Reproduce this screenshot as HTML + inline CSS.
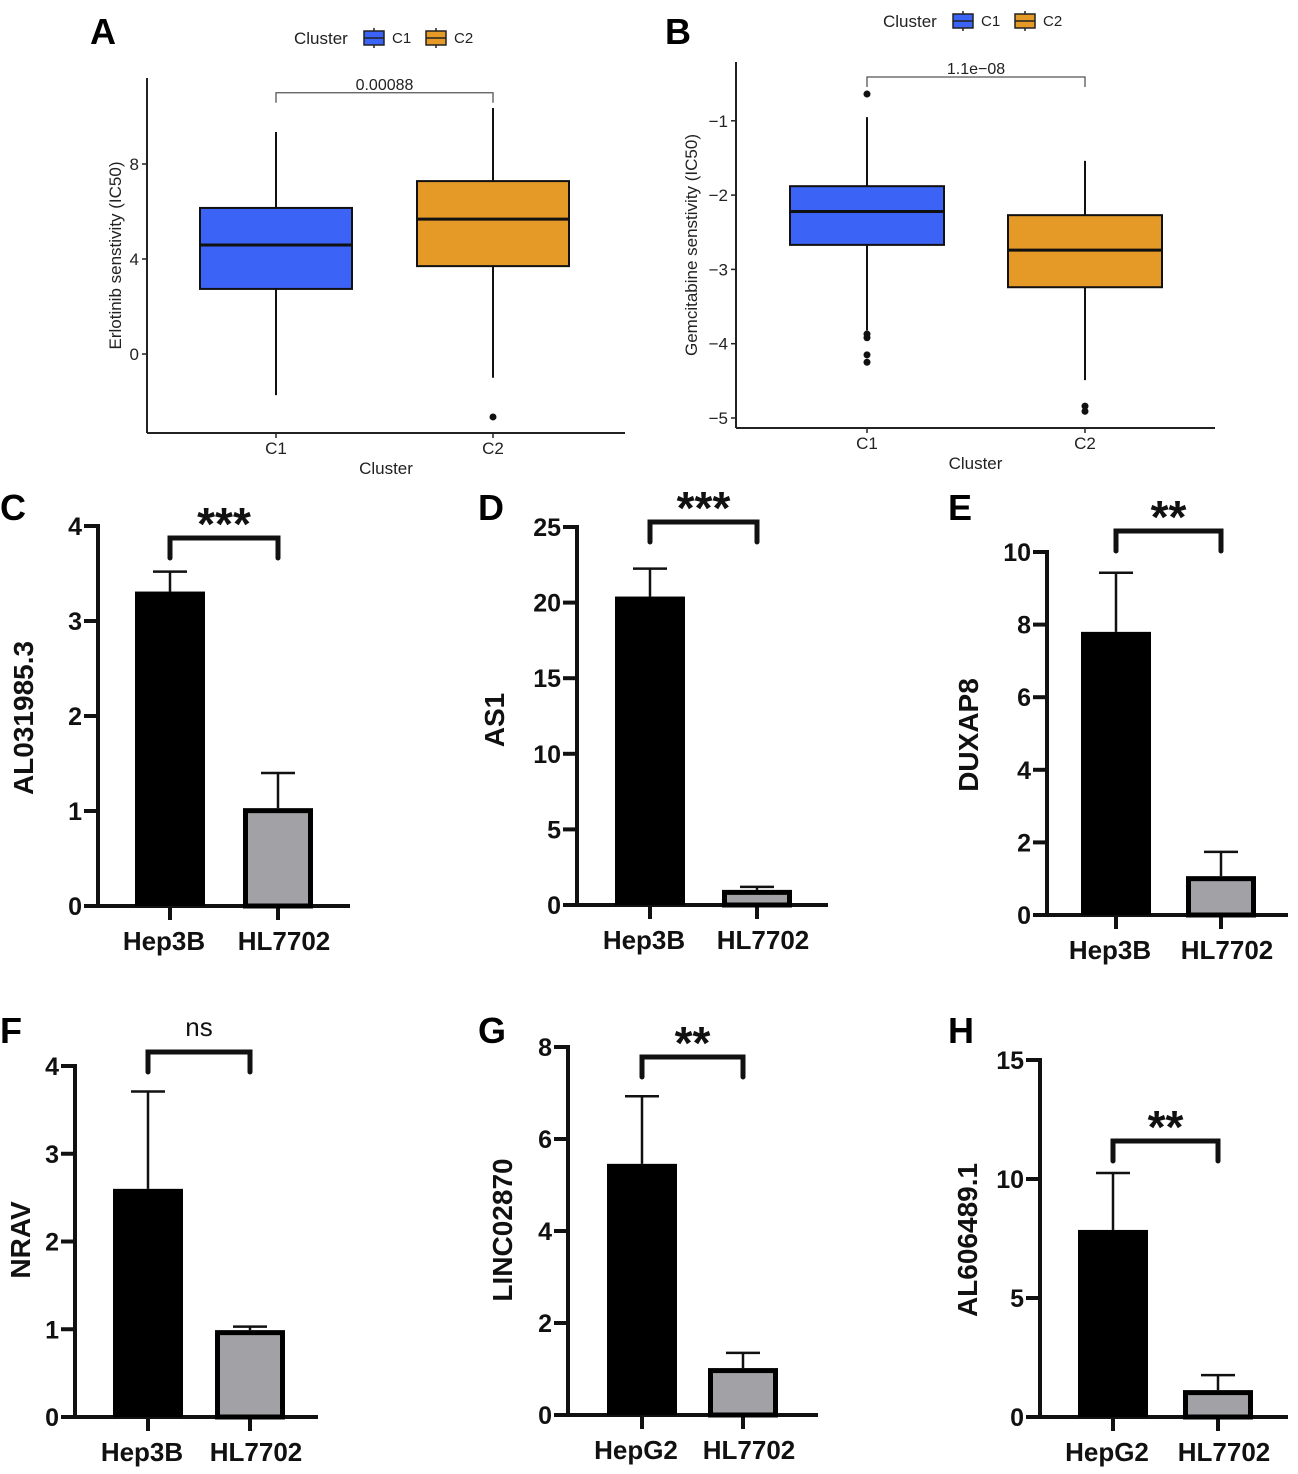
<!DOCTYPE html>
<html><head><meta charset="utf-8"><style>
body{margin:0;background:#fff;}
svg{display:block;font-family:"Liberation Sans",Arial,sans-serif;}
</style></head><body>
<svg id="fig" width="1298" height="1474" viewBox="0 0 1298 1474"></svg>
<script>
// ---------- data ----------
const boxCats = ["C1","C2"];
// Panel A (Erlotinib): [whiskerLow, Q1, median, Q3, whiskerHigh]
const aStats = [[-1.73,2.74,4.59,6.15,9.35],[-1.0,3.7,5.68,7.28,10.36]];
const aOutliers = [[],[-2.65]];
const aTicks = [0,4,8];
// Panel B (Gemcitabine)
const bStats = [[-3.82,-2.67,-2.22,-1.88,-0.95],[-4.49,-3.24,-2.74,-2.27,-1.54]];
const bOutliers = [[-0.64,-3.87,-3.92,-4.15,-4.25],[-4.84,-4.91]];
const bTicks = [-5,-4,-3,-2,-1];

const cCats=["Hep3B","HL7702"], cMeans=[3.31,1.03], cErrs=[0.21,0.37], cTicks=[0,1,2,3,4];
const dCats=["Hep3B","HL7702"], dMeans=[20.4,1.0], dErrs=[1.85,0.2], dTicks=[0,5,10,15,20,25];
const eCats=["Hep3B","HL7702"], eMeans=[7.8,1.07], eErrs=[1.63,0.67], eTicks=[0,2,4,6,8,10];
const fCats=["Hep3B","HL7702"], fMeans=[2.6,0.99], fErrs=[1.11,0.04], fTicks=[0,1,2,3,4];
const gCats=["HepG2","HL7702"], gMeans=[5.46,1.02], gErrs=[1.47,0.33], gTicks=[0,2,4,6,8];
const hCats=["HepG2","HL7702"], hMeans=[7.86,1.13], hErrs=[2.39,0.63], hTicks=[0,5,10,15];

const NS="http://www.w3.org/2000/svg";
const svg=document.getElementById('fig');
function mk(tag,attrs,parent,text){
  const e=document.createElementNS(NS,tag);
  for(const k in attrs) e.setAttribute(k,attrs[k]);
  if(text!==undefined) e.textContent=text;
  (parent||svg).appendChild(e);return e;
}

// ---------- box plots ----------
function boxPanel(o){
  const g=mk('g',{});
  
  
  const y=v=>o.y0-(v-o.v0)*o.k;
  const x=i=>o.xs[i];
  let t=mk('text',{x:o.lx,y:o.ly,'font-size':36,'font-weight':'bold'},g,o.letter);
  
  const lg=mk('g',{},g);
  
  mk('text',{x:o.legX,y:o.legY+6,'font-size':17,fill:'#222'},lg,'Cluster');
  const cols=['#3b63f5','#e59a27'];
  [0,1].forEach(i=>{
    const bx=o.legX+70+i*62;
    const it=mk('g',{},lg);
    
    
    mk('line',{x1:bx+10,x2:bx+10,y1:o.legY-10,y2:o.legY+10,stroke:'#222','stroke-width':1.5},it);
    mk('rect',{x:bx,y:o.legY-7,width:20,height:14,fill:cols[i],stroke:'#222','stroke-width':1.5},it);
    mk('line',{x1:bx,x2:bx+20,y1:o.legY,y2:o.legY,stroke:'#222','stroke-width':1.5},it);
    mk('text',{x:bx+28,y:o.legY+5,'font-size':15,fill:'#222'},it,boxCats[i]);
  });
  const ax=mk('g',{},g);
  mk('line',{x1:o.ax,x2:o.ax,y1:o.top,y2:o.bot,stroke:'#222','stroke-width':2},ax);
  mk('line',{x1:o.ax,x2:o.right,y1:o.bot,y2:o.bot,stroke:'#222','stroke-width':2},ax);
  o.ticks.forEach(v=>{
    mk('line',{x1:o.ax-5,x2:o.ax,y1:y(v),y2:y(v),stroke:'#222','stroke-width':1.5},ax);
    mk('text',{x:o.ax-8,y:y(v)+6,'font-size':17,'text-anchor':'end',fill:'#222'},ax,String(v).replace('-','\u2212'));
  });
  boxCats.forEach((c,i)=>{
    mk('line',{x1:x(i),x2:x(i),y1:o.bot,y2:o.bot+5,stroke:'#222','stroke-width':1.5},ax);
    mk('text',{x:x(i),y:o.bot+21,'font-size':17,'text-anchor':'middle',fill:'#222'},ax,c);
  });
  let xt=mk('text',{x:(o.ax+o.right)/2,y:o.bot+41,'font-size':17,'text-anchor':'middle',fill:'#222'},g,'Cluster');
  
  let yt=mk('text',{x:0,y:0,'font-size':17,'text-anchor':'middle',fill:'#222',transform:`translate(${o.ytx},${(o.top+o.bot)/2}) rotate(-90)`},g,o.ytitle);
  
  o.stats.forEach((s,i)=>{
    const b=mk('g',{},g);
    
    const hw=o.bw/2;
    mk('line',{x1:x(i),x2:x(i),y1:y(s[0]),y2:y(s[4]),stroke:'#111','stroke-width':2},b);
    mk('rect',{x:x(i)-hw,y:y(s[3]),width:o.bw,height:y(s[1])-y(s[3]),fill:cols[i],stroke:'#111','stroke-width':2},b);
    mk('line',{x1:x(i)-hw,x2:x(i)+hw,y1:y(s[2]),y2:y(s[2]),stroke:'#111','stroke-width':3},b);
    o.out[i].forEach(v=>mk('circle',{cx:x(i),cy:y(v),r:3.5,fill:'#111'},b));
  });
  const br=mk('g',{},g);
  mk('path',{d:`M${x(0)},${y(o.brV)+10}V${y(o.brV)}H${x(1)}V${y(o.brV)+10}`,fill:'none',stroke:'#555','stroke-width':1.3},br);
  mk('text',{x:(x(0)+x(1))/2,y:y(o.brV)-3,'font-size':16,'text-anchor':'middle',fill:'#222'},br,o.pval);
}
boxPanel({name:'panel-a-erlotinib-boxplot',letter:'A',lx:90,ly:44,legX:294,legY:38,ax:147,right:625,top:78,bot:433,
  y0:354,v0:0,k:23.75,xs:[276,493],bw:152,stats:aStats,out:aOutliers,ticks:aTicks,brV:11.0,pval:'0.00088',
  ytx:121,ytitle:'Erlotinib senstivity (IC50)'});
boxPanel({name:'panel-b-gemcitabine-boxplot',letter:'B',lx:665,ly:44,legX:883,legY:21,ax:736,right:1215,top:62,bot:428,
  y0:418,v0:-5,k:74.3,xs:[867,1085],bw:154,stats:bStats,out:bOutliers,ticks:bTicks,brV:-0.41,pval:'1.1e\u221208',
  ytx:697,ytitle:'Gemcitabine senstivity (IC50)'});

// ---------- bar charts ----------
function barPanel(o){
  const g=mk('g',{});
  
  const y=v=>o.y0-v*o.k;
  const x=i=>o.xs[i];
  let t=mk('text',{x:o.lx,y:o.ly,'font-size':36,'font-weight':'bold'},g,o.letter);
  
  const ax=mk('g',{},g);
  const top=y(o.ticks[o.ticks.length-1]);
  mk('line',{x1:o.ax,x2:o.ax,y1:top-2,y2:o.y0+2,stroke:'#111','stroke-width':4},ax);
  mk('line',{x1:o.ax-2,x2:o.right,y1:o.y0,y2:o.y0,stroke:'#111','stroke-width':4},ax);
  o.ticks.forEach(v=>{
    mk('line',{x1:o.ax-14,x2:o.ax,y1:y(v),y2:y(v),stroke:'#111','stroke-width':4},ax);
    mk('text',{x:o.ax-16,y:y(v)+9,'font-size':25,'font-weight':'bold','text-anchor':'end',fill:'#111'},ax,v);
  });
  o.cats.forEach((c,i)=>{
    mk('line',{x1:x(i),x2:x(i),y1:o.y0,y2:o.y0+14,stroke:'#111','stroke-width':4},ax);
    mk('text',{x:x(i)+(i?6:-6),y:o.y0+44,'font-size':26,'font-weight':'bold','text-anchor':'middle',fill:'#111'},ax,c);
  });
  let yt=mk('text',{x:0,y:0,'font-size':28,'font-weight':'bold','text-anchor':'middle',fill:'#111',transform:`translate(${o.ytx},${o.yty}) rotate(-90)`},g,o.ytitle);
  
  o.means.forEach((m,i)=>{
    const b=mk('g',{},g);
    
    const e=y(m+o.errs[i]);
    mk('line',{x1:x(i),x2:x(i),y1:y(m),y2:e,stroke:'#111','stroke-width':2.5},b);
    mk('line',{x1:x(i)-17,x2:x(i)+17,y1:e,y2:e,stroke:'#111','stroke-width':2.5},b);
    if(i===0) mk('rect',{x:x(i)-35,y:y(m),width:70,height:o.y0-y(m),fill:'#000'},b);
    else mk('rect',{x:x(i)-32.5,y:y(m)+2.5,width:65,height:o.y0-y(m)-2.5,fill:'#a2a2a6',stroke:'#000','stroke-width':5},b);
  });
  const br=mk('g',{},g);
  mk('path',{d:`M${x(0)},${o.brY+20}V${o.brY}H${x(1)}V${o.brY+20}`,fill:'none',stroke:'#111','stroke-width':5,'stroke-linecap':'round','stroke-linejoin':'miter'},br);
  if(o.sig==='ns') mk('text',{x:(x(0)+x(1))/2,y:o.brY-16,'font-size':26,'text-anchor':'middle',fill:'#111'},br,'ns');
  else mk('text',{x:(x(0)+x(1))/2,y:o.brY+2,'font-size':46,'font-weight':'bold','text-anchor':'middle',fill:'#111'},br,o.sig);
}
barPanel({name:'panel-c-al031985',letter:'C',lx:0,ly:520,ax:98,right:350,y0:906,k:95,xs:[170,278],cats:cCats,means:cMeans,errs:cErrs,ticks:cTicks,brY:538,sig:'***',ytx:33,yty:718,ytitle:'AL031985.3'});
barPanel({name:'panel-d-as1',letter:'D',lx:478,ly:520,ax:577,right:828,y0:905,k:15.12,xs:[650,757],cats:dCats,means:dMeans,errs:dErrs,ticks:dTicks,brY:522,sig:'***',ytx:504,yty:720,ytitle:'AS1'});
barPanel({name:'panel-e-duxap8',letter:'E',lx:948,ly:520,ax:1047,right:1288,y0:915,k:36.3,xs:[1116,1221],cats:eCats,means:eMeans,errs:eErrs,ticks:eTicks,brY:531,sig:'**',ytx:978,yty:735,ytitle:'DUXAP8'});
barPanel({name:'panel-f-nrav',letter:'F',lx:0,ly:1043,ax:75,right:318,y0:1417,k:87.75,xs:[148,250],cats:fCats,means:fMeans,errs:fErrs,ticks:fTicks,brY:1052,sig:'ns',ytx:30,yty:1240,ytitle:'NRAV'});
barPanel({name:'panel-g-linc02870',letter:'G',lx:478,ly:1043,ax:568,right:818,y0:1415,k:46,xs:[642,743],cats:gCats,means:gMeans,errs:gErrs,ticks:gTicks,brY:1057,sig:'**',ytx:512,yty:1230,ytitle:'LINC02870'});
barPanel({name:'panel-h-al606489',letter:'H',lx:948,ly:1043,ax:1040,right:1288,y0:1417,k:23.8,xs:[1113,1218],cats:hCats,means:hMeans,errs:hErrs,ticks:hTicks,brY:1141,sig:'**',ytx:977,yty:1240,ytitle:'AL606489.1'});
</script>
</body></html>
